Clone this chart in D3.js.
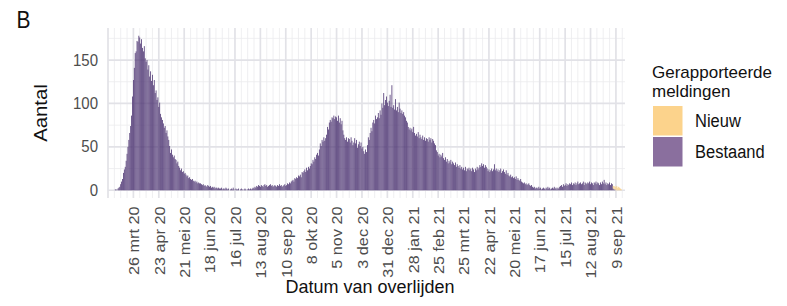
<!DOCTYPE html>
<html><head><meta charset="utf-8">
<script src="https://cdn.jsdelivr.net/npm/d3@7"></script>
<style>
body{margin:0;background:#fff}
svg{display:block}
text{font-family:"Liberation Sans", Arial, Helvetica, sans-serif}
</style>
</head><body><div id="chart"></div>
<script>
// ---------- data (daily deaths by date of death) ----------
const startDate = "2020-03-05";
const bestaand = [
  // mrt 2020 (5-31)
  0,1,1,0,2,3,4,7,10,13,20,24,27,34,42,50,58,66,74,86,108,127,141,158,160,172,171,
  // apr 2020
  178,176,169,174,164,160,166,152,148,150,139,144,131,137,126,133,121,127,112,115,104,107,96,101,88,84,81,77,72,74,
  // mei 2020
  66,69,62,58,51,43,47,41,38,40,36,35,31,33,28,26,23,25,21,22,19,20,18,16,17,14,15,13,12,13,11,
  // jun 2020
  10,11,9,10,8,9,8,8,7,6,7,5,6,5,4,6,5,4,5,3,4,3,4,2,3,3,2,3,2,2,
  // jul 2020
  3,1,2,2,1,3,2,1,2,0,1,2,1,3,1,0,2,1,1,2,0,1,2,1,0,1,2,1,0,1,2,
  // aug 2020
  1,2,1,2,3,2,4,3,5,4,6,5,4,6,5,4,6,7,5,6,4,5,6,7,5,6,4,5,6,5,4,
  // sep 2020
  6,5,7,5,6,4,5,6,7,5,6,8,7,9,8,10,11,12,10,14,13,15,14,17,16,18,15,21,20,22,
  // okt 2020
  24,21,26,23,27,25,28,31,30,35,33,38,36,41,43,40,47,54,51,58,56,61,57,60,64,73,70,78,81,79,84,
  // nov 2020
  83,86,82,85,84,80,86,78,83,76,80,69,64,60,58,61,56,60,59,55,61,57,52,55,60,54,58,49,53,56,
  // dec 2020
  51,55,48,50,45,42,47,44,52,61,58,66,72,68,78,81,77,86,82,84,89,83,92,87,100,95,112,98,104,108,101,
  // jan 2021
  97,103,110,96,121,95,98,93,105,92,96,90,101,94,89,92,88,90,86,84,80,78,73,70,72,69,71,67,73,66,63,
  // feb 2021
  65,62,67,60,64,61,59,63,58,61,57,60,59,56,61,58,60,55,59,57,54,52,46,44,40,42,38,41,
  // mrt 2021
  39,43,37,35,38,33,36,31,34,32,35,30,33,31,29,32,27,30,28,26,29,25,27,24,26,23,27,22,25,24,26,
  // apr 2021
  23,25,22,26,24,21,25,23,27,24,26,29,27,31,28,30,26,29,27,25,22,24,21,23,25,22,24,30,23,25,
  // mei 2021
  22,24,21,23,25,20,22,24,21,19,23,18,20,17,16,18,15,16,14,15,13,16,12,14,12,11,13,10,9,8,9,
  // jun 2021
  7,8,6,7,8,6,5,6,4,3,4,2,3,3,2,4,2,3,1,2,3,2,1,3,2,4,2,3,1,2,
  // jul 2021
  3,2,4,2,3,1,3,2,4,5,6,4,7,5,6,8,5,7,6,8,7,9,6,8,7,9,6,8,10,7,8,
  // aug 2021
  9,7,8,10,6,9,8,7,9,8,10,7,9,8,6,9,8,10,7,9,8,6,9,7,10,8,12,7,9,6,8,
  // sep 2021 (1-15)
  7,9,6,8,7,2,1,1,0,0,0,0,0,0,0
];
const nieuwStart = "2021-09-06";
const nieuw = [3,4,3,4,5,3,4,3,2,1];

const tickDates = ["2020-03-26","2020-04-23","2020-05-21","2020-06-18","2020-07-16","2020-08-13",
  "2020-09-10","2020-10-08","2020-11-05","2020-12-03","2020-12-31","2021-01-28","2021-02-25",
  "2021-03-25","2021-04-22","2021-05-20","2021-06-17","2021-07-15","2021-08-12","2021-09-09"];
const shortMonths = ["jan","feb","mrt","apr","mei","jun","jul","aug","sep","okt","nov","dec"];
const yTicks = [0, 50, 100, 150];
const yMinorTicks = [25, 75, 125, 175];
const seriesKeys = ["nieuw", "bestaand"];
const seriesLabels = ["Nieuw", "Bestaand"];
const legendTitle = ["Gerapporteerde", "meldingen"];

// ---------- setup ----------
const W = 787, H = 306;
const parse = d3.utcParse("%Y-%m-%d");
const locale = d3.timeFormatLocale({
  dateTime: "%a %e %B %Y %X", date: "%d-%m-%Y", time: "%H:%M:%S", periods: ["AM","PM"],
  days: ["zondag","maandag","dinsdag","woensdag","donderdag","vrijdag","zaterdag"],
  shortDays: ["zo","ma","di","wo","do","vr","za"],
  months: ["januari","februari","maart","april","mei","juni","juli","augustus","september","oktober","november","december"],
  shortMonths: shortMonths
});
const fmt = locale.utcFormat("%-d %b %y");

const start = parse(startDate);
const nStart = parse(nieuwStart);
const data = bestaand.map((v, i) => {
  const date = d3.utcDay.offset(start, i);
  const k = d3.utcDay.count(nStart, date);
  return {date, bestaand: v, nieuw: (k >= 0 && k < nieuw.length) ? nieuw[k] : 0};
});

const panel = {left: 108, right: 625, top: 28, bottom: 198};
const x = d3.scaleUtc().domain([parse("2020-02-27"), parse("2021-09-19")]).range([panel.left, panel.right]);
const yMax = d3.max(data, d => d.bestaand + d.nieuw);
const pad = yMax * 0.05;
const y = d3.scaleLinear().domain([-pad, yMax + pad]).range([panel.bottom, panel.top]);

const svg = d3.select("#chart").append("svg").attr("width", W).attr("height", H);
svg.append("rect").attr("width", W).attr("height", H).attr("fill", "#fff");

// gridlines
const grid = svg.append("g");
const xDomain = x.domain();
const t0 = parse(tickDates[0]);
const weekly = d3.utcDay.range(d3.utcDay.offset(t0, -28), xDomain[1], 1)
  .filter(d => d3.utcDay.count(t0, d) % 7 === 0 && d >= xDomain[0]);
const isMajor = d => d3.utcDay.count(t0, d) % 28 === 0;
grid.selectAll(".vmin").data(weekly.filter(d => !isMajor(d))).join("line")
  .attr("x1", d => x(d)).attr("x2", d => x(d)).attr("y1", panel.top).attr("y2", panel.bottom)
  .attr("stroke", "#ebebee").attr("stroke-width", 0.8);
grid.selectAll(".hmin").data(yMinorTicks).join("line")
  .attr("x1", panel.left).attr("x2", panel.right).attr("y1", d => y(d)).attr("y2", d => y(d))
  .attr("stroke", "#ebebee").attr("stroke-width", 0.8);
grid.selectAll(".vmaj").data(weekly.filter(isMajor)).join("line")
  .attr("x1", d => x(d)).attr("x2", d => x(d)).attr("y1", panel.top).attr("y2", panel.bottom)
  .attr("stroke", "#e2e2e7").attr("stroke-width", 1.7);
grid.selectAll(".hmaj").data(yTicks).join("line")
  .attr("x1", panel.left).attr("x2", panel.right).attr("y1", d => y(d)).attr("y2", d => y(d))
  .attr("stroke", "#e2e2e7").attr("stroke-width", 1.7);

// bars
const stack = d3.stack().keys(["bestaand", "nieuw"])(data);
const colors = {bestaand: "#523a76", nieuw: "#f9cf86"};
const step = x(d3.utcDay.offset(start, 1)) - x(start);
const bw = step * 0.9;
svg.append("g").selectAll("g").data(stack).join("g")
  .attr("fill", s => colors[s.key])
  .selectAll("rect").data(s => s.filter(d => d[1] - d[0] > 0)).join("rect")
  .attr("x", d => x(d.data.date) - bw / 2)
  .attr("width", bw)
  .attr("y", d => y(d[1]))
  .attr("height", d => y(d[0]) - y(d[1]));

// x axis
const xAxis = d3.axisBottom(x).tickValues(tickDates.map(parse)).tickFormat(fmt).tickSize(0).tickPadding(0);
const gx = svg.append("g").attr("transform", `translate(0,206.5)`).call(xAxis);
gx.select(".domain").remove();
gx.selectAll("text")
  .attr("transform", "scale(1,1.08) rotate(-90)")
  .attr("x", 0).attr("y", 0).attr("dy", "0.35em")
  .attr("text-anchor", "end")
  .attr("fill", "#4d4d4d")
  .style("font-size", "15px")
  .style("font-family", '"Liberation Sans", Arial, sans-serif');

// y axis
const yAxis = d3.axisLeft(y).tickValues(yTicks).tickSize(0).tickPadding(0);
const gy = svg.append("g").attr("transform", `translate(98,0)`).call(yAxis);
gy.select(".domain").remove();
gy.selectAll(".tick text")
  .attr("x", 0).attr("dy", null).attr("y", null)
  .attr("transform", "scale(1,1.1)")
  .attr("fill", "#4d4d4d")
  .style("font-size", "15px")
  .style("font-family", '"Liberation Sans", Arial, sans-serif');
gy.selectAll(".tick").attr("transform", d => `translate(0,${y(d) + 5.6})`);

// titles
svg.append("text").attr("transform", "translate(16.5,27.5) scale(1,1.12)")
  .style("font-size", "21px").attr("fill", "#111").text("B");
svg.append("text").attr("transform", `translate(46.5,${(panel.top + panel.bottom) / 2}) scale(1,1.1) rotate(-90)`)
  .attr("text-anchor", "middle").style("font-size", "18.5px").attr("fill", "#111").text("Aantal");
svg.append("text").attr("transform", "translate(370,293) scale(1,1.06)")
  .attr("text-anchor", "middle").style("font-size", "18px").attr("fill", "#111").text("Datum van overlijden");

// legend
const lg = svg.append("g");
legendTitle.forEach((t, i) => {
  lg.append("text").attr("x", 652).attr("y", 77.5 + i * 19.5)
    .style("font-size", "17px").attr("fill", "#111").text(t);
});
const keyColors = {nieuw: "#fcd38c", bestaand: "#8a6f9e"};
seriesKeys.forEach((k, i) => {
  lg.append("rect").attr("x", 653).attr("y", 106 + i * 31).attr("width", 29.5).attr("height", 29.5)
    .attr("fill", keyColors[k]);
  lg.append("text").attr("transform", `translate(695,${126.5 + i * 31}) scale(1,1.1)`)
    .style("font-size", "16.5px").attr("fill", "#111").text(seriesLabels[i]);
});
</script>
</body></html>
